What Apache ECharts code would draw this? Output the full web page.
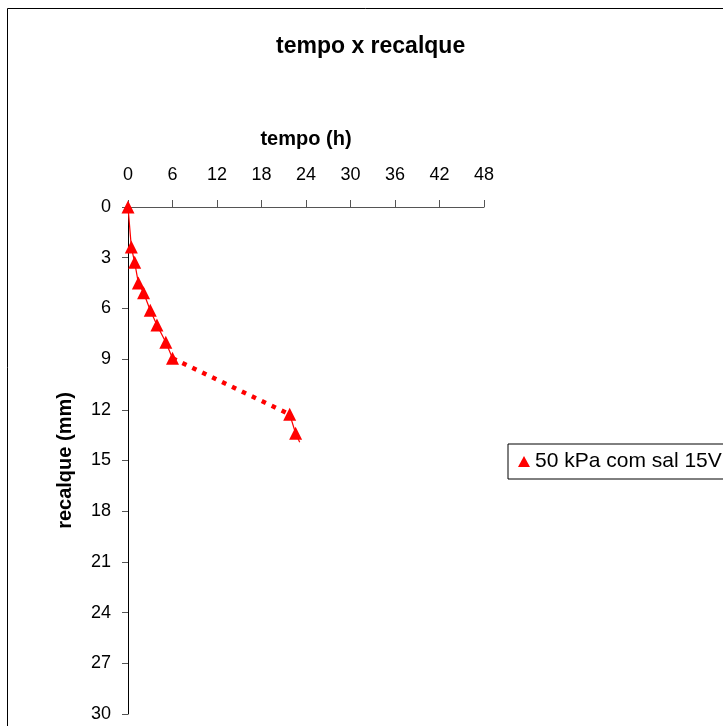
<!DOCTYPE html>
<html>
<head>
<meta charset="utf-8">
<script src="https://cdn.jsdelivr.net/npm/echarts@6/dist/echarts.min.js"></script>
<style>
  html, body { margin: 0; padding: 0; background: #fff; }
  #chart { width: 723px; height: 726px; }
</style>
</head>
<body>
<div id="chart"></div>
<script>
// tempo (h) x recalque (mm)
var tempo    = [0, 0.45, 0.9, 1.4, 2.1, 3.0, 3.9, 5.1, 6.0, 21.8, 22.6, 23.15];
var recalque = [0, 2.37, 3.27, 4.5, 5.07, 6.11, 6.98, 8.0, 8.95, 12.27, 13.39, 13.92];
var xTicks = [0, 6, 12, 18, 24, 30, 36, 42, 48];
var yTicks = [0, 3, 6, 9, 12, 15, 18, 21, 24, 27, 30];
var serieName = '50 kPa com sal 15V';
// the segment between these two points is drawn dotted
var gapFrom = 8, gapTo = 9;
// last point has no marker
var noMarker = [11];

var fnt = 'Liberation Sans, Arial, sans-serif';

function pts(a, b) {
    var out = [];
    for (var i = a; i <= b; i++) {
        if (noMarker.indexOf(i) >= 0) {
            out.push({ value: [tempo[i], recalque[i]], symbol: 'none' });
        } else {
            out.push([tempo[i], recalque[i]]);
        }
    }
    return out;
}

var chart = echarts.init(document.getElementById('chart'), null, { renderer: 'canvas' });

var solidStyle = { color: '#ff0000', width: 1.25 };
var markStyle = { color: '#ff0000' };

var option = {
    animation: false,
    backgroundColor: '#fff',
    title: {
        text: 'tempo x recalque',
        left: 276,
        top: 35,
        padding: 0,
        textStyle: { fontFamily: fnt, fontSize: 23, fontWeight: 'bold', color: '#000' }
    },
    legend: {
        data: [serieName],
        left: 508,
        top: 444,
        padding: [7, 10, 7, 10],
        borderColor: '#000',
        borderWidth: 1,
        icon: 'triangle',
        itemWidth: 12,
        itemHeight: 11,
        selectedMode: false,
        textStyle: { fontFamily: fnt, fontSize: 21, color: '#000' }
    },
    grid: { left: 128, top: 207, width: 356, height: 507, containLabel: false },
    xAxis: {
        type: 'value',
        position: 'top',
        min: xTicks[0],
        max: xTicks[xTicks.length - 1],
        interval: 6,
        name: 'tempo (h)',
        nameLocation: 'middle',
        nameGap: 58,
        nameTextStyle: { fontFamily: fnt, fontSize: 20, fontWeight: 'bold', color: '#000' },
        axisLine: { show: true, onZero: false, lineStyle: { color: '#555', width: 1 } },
        axisTick: { show: true, inside: false, length: 7, lineStyle: { color: '#555' } },
        axisLabel: { margin: 23, fontFamily: fnt, fontSize: 18, color: '#000' },
        splitLine: { show: false }
    },
    yAxis: {
        type: 'value',
        inverse: true,
        min: yTicks[0],
        max: yTicks[yTicks.length - 1],
        interval: 3,
        name: 'recalque (mm)',
        nameLocation: 'middle',
        nameGap: 53,
        nameTextStyle: { fontFamily: fnt, fontSize: 20, fontWeight: 'bold', color: '#000' },
        axisLine: { show: true, onZero: false, lineStyle: { color: '#000', width: 1 } },
        axisTick: { show: true, inside: false, length: 6, lineStyle: { color: '#555' } },
        axisLabel: { margin: 17, fontFamily: fnt, fontSize: 18, color: '#000' },
        splitLine: { show: false }
    },
    graphic: [{
        type: 'rect',
        shape: { x: 7.5, y: 8.5, width: 900, height: 900 },
        style: { fill: 'none', stroke: '#000', lineWidth: 1 },
        z: 100,
        silent: true
    }],
    series: [
        {
            name: 'trecho pontilhado',
            type: 'line',
            data: pts(gapFrom, gapTo),
            symbol: 'none',
            lineStyle: { color: '#ff0000', width: 4.5, type: [4.5, 6.5], cap: 'butt' },
            z: 1
        },
        {
            name: serieName,
            type: 'line',
            data: pts(0, gapFrom),
            symbol: 'triangle',
            symbolSize: [13, 13],
            itemStyle: markStyle,
            lineStyle: solidStyle,
            z: 3
        },
        {
            name: serieName,
            type: 'line',
            data: pts(gapTo, tempo.length - 1),
            symbol: 'triangle',
            symbolSize: [13, 13],
            itemStyle: markStyle,
            lineStyle: solidStyle,
            z: 3
        }
    ]
};

chart.setOption(option);
</script>
</body>
</html>
